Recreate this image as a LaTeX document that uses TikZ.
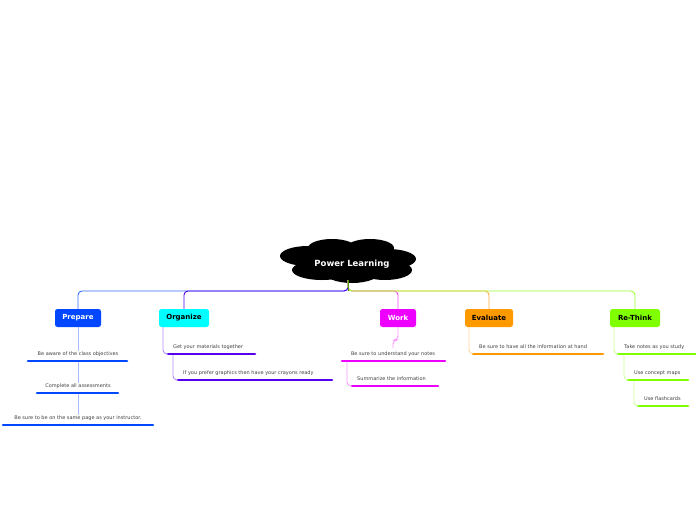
\documentclass[tikz,border=0pt]{standalone}
\usepackage{fontspec}
\setmainfont{DejaVu Sans}
\definecolor{cprep}{HTML}{0047FF}
\definecolor{corg}{HTML}{00FFFF}
\definecolor{corgd}{HTML}{5500EE}
\definecolor{cwork}{HTML}{EE00FF}
\definecolor{ceval}{HTML}{FF9900}
\definecolor{cre}{HTML}{80FF00}
\begin{document}
\begin{tikzpicture}[x=1pt,y=-1pt,
  topic/.style={rounded corners=2.5pt,minimum height=18pt,inner xsep=4pt,font=\fontsize{7}{8}\selectfont\bfseries},
  sub/.style={font=\fontsize{5}{6}\selectfont,text=black!75,inner sep=0pt},
  bar/.style={line width=2.6pt,line cap=round},
  conn/.style={line width=0.9pt,rounded corners=4pt}]
\useasboundingbox (0,0) rectangle (696,520);
% cloud
\fill[black] (308,256) ellipse (28 and 10) (332,248) ellipse (24 and 9) (370,248) ellipse (24 and 9) (388,259) ellipse (28 and 10)
  (322,270) ellipse (30 and 10) (385,270) ellipse (27 and 10) (352,272) ellipse (28 and 11) (348,262) ellipse (50 and 14);
\node[text=white,font=\fontsize{8.5}{10}\selectfont\bfseries] (root) at (352,264) {Power Learning};
\coordinate (rb) at (348,280);
% topics
\node[topic,fill=cprep,text=white,minimum width=46pt] (prep) at (78,318) {Prepare};
\node[topic,fill=corg,text=black,minimum width=50pt] (org) at (184,318) {Organize};
\node[topic,fill=cwork,text=white,minimum width=36pt] (work) at (398,318) {Work};
\node[topic,fill=ceval,text=black,minimum width=48pt] (eval) at (489,318) {Evaluate};
\node[topic,fill=cre,text=black,minimum width=50pt] (re) at (635,318) {Re-Think};
% main connectors
\draw[conn,cprep!80] (rb) -- (348,291) -- (78,291) -- (prep.north);
\draw[conn,corgd] (rb) -- (348,291) -- (184,291) -- (org.north);
\draw[conn,cwork!70] (rb) -- (348,291) -- (398,291) -- (work.north);
\draw[conn,ceval!80] (rb) -- (348,291) -- (489,291) -- (eval.north);
\draw[conn,cre!80] (rb) -- (348,291) -- (635,291) -- (re.north);
\draw[line width=0.9pt,cre!60!black] (rb) -- (348,291);
% Prepare
\node[sub] (p1) at (78,354) {Be aware of the class objectives};
\node[sub] (p2) at (78,386) {Complete all assessments};
\node[sub] (p3) at (78,418) {Be sure to be on the same page as your instructor.};
\draw[bar,cprep] (28,361) coordinate (p1a) -- (127,361) coordinate (p1b);
\draw[bar,cprep] (37,393) coordinate (p2a) -- (118,393);
\draw[bar,cprep] (3,425) coordinate (p3a) -- (153,425);
\draw[conn,cprep!35] (prep.south) -- (p1.north);
\draw[conn,cprep!35] (78,362) -- (p2.north);
\draw[conn,cprep!35] (78,394) -- (p3.north);
% Organize
\node[sub,anchor=west] (o1) at (173,347) {Get your materials together};
\node[sub,anchor=west] (o2) at (183,373) {If you prefer graphics then have your crayons ready};
\draw[bar,corgd] (168,354) coordinate (o1a) -- (255,354);
\draw[bar,corgd] (178,380) coordinate (o2a) -- (332,380);
\draw[conn,corgd!45] (163,327) -- (163,354) -- (o1a);
\draw[conn,corgd!45] (173,355) -- (173,380) -- (o2a);
% Work
\node[sub] (w1) at (393,354) {Be sure to understand your notes};
\node[sub,anchor=west] (w2) at (357,379) {Summarize the information};
\draw[bar,cwork] (342,361) coordinate (w1a) -- (445,361);
\draw[bar,cwork] (352,386) coordinate (w2a) -- (438,386);
\draw[conn,cwork!40] (work.south) -- (398,340) -- (393,340) -- (393,348);
\draw[conn,cwork!40] (347,362) -- (347,386) -- (w2a);
% Evaluate
\node[sub,anchor=west] (e1) at (479,347) {Be sure to have all the information at hand};
\draw[bar,ceval] (473,354) coordinate (e1a) -- (603,354);
\draw[conn,ceval!40] (469,327) -- (469,354) -- (e1a);
% Re-Think
\node[sub,anchor=west] (r1) at (624,347) {Take notes as you study};
\node[sub,anchor=west] (r2) at (634,373) {Use concept maps};
\node[sub,anchor=west] (r3) at (644,399) {Use flashcards};
\draw[bar,cre] (618,354) coordinate (r1a) -- (696,354);
\draw[bar,cre] (628,380) coordinate (r2a) -- (688,380);
\draw[bar,cre] (638,406) coordinate (r3a) -- (688,406);
\draw[conn,cre!40] (614,327) -- (614,354) -- (r1a);
\draw[conn,cre!40] (624,355) -- (624,380) -- (r2a);
\draw[conn,cre!40] (634,381) -- (634,406) -- (r3a);
\end{tikzpicture}
\end{document}
